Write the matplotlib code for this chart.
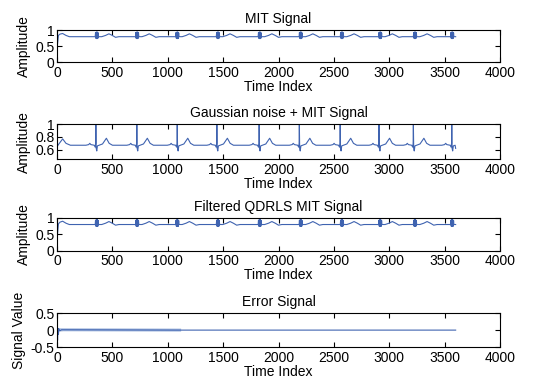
import numpy as np
import matplotlib as mpl
mpl.use('agg')
import matplotlib.pyplot as plt

plt.rcParams['font.family'] = ['Liberation Sans', 'DejaVu Sans']
plt.rcParams['font.size'] = 10

# beat (R peak) positions
r_mit = [358, 722, 1085, 1452, 1830, 2200, 2572, 2918, 3232, 3568]
r_noisy = [350, 720, 1085, 1443, 1825, 2188, 2557, 2908, 3218, 3565]

# beat shape of the clean / filtered signal (offset from R, amplitude)
mit_off = [-60, -14, -11, -8, -5, -2, 1, 4, 7, 10, 13, 16, 45, 80, 110, 140, 170, 200]
mit_val = [0.80, 0.80, 0.93, 0.75, 0.94, 0.74, 0.95, 0.74, 0.94, 0.75, 0.92, 0.80,
           0.80, 0.84, 0.89, 0.84, 0.78, 0.80]
mit_start_x = [0, 3, 12, 25, 50, 80, 110]
mit_start_y = [0.40, 0.55, 0.84, 0.88, 0.90, 0.84, 0.80]
mit_end_x = [3600]
mit_end_y = [0.80]

filt_start_x = [0, 3, 12, 25, 50, 80, 110]
filt_start_y = [0.30, 0.50, 0.82, 0.87, 0.90, 0.84, 0.80]

# beat shape of the noisy signal
noisy_off = [-90, -65, -55, -45, -15, -6, -2, 0, 3, 8, 14, 30, 60, 95, 120, 150, 200]
noisy_val = [0.67, 0.68, 0.70, 0.68, 0.67, 0.64, 0.70, 1.00, 0.62, 0.58, 0.66, 0.67,
             0.69, 0.78, 0.70, 0.67, 0.67]
noisy_start_x = [0, 20, 50, 80, 120]
noisy_start_y = [0.65, 0.70, 0.77, 0.70, 0.67]
noisy_end_x = [3600]
noisy_end_y = [0.62]

err_x = [0, 4, 8, 12, 16, 25, 40, 1100, 3600]
err_y = [0.0, -0.30, 0.05, -0.12, 0.04, -0.02, 0.01, 0.0, 0.0]
# early part of the error where small ripples show as a faint band
err_band_x = [20, 1120]
err_band_y = [0.01, 0.0]


def build(starts_x, starts_y, beats, off, val, ends_x, ends_y):
    xs = list(starts_x)
    ys = list(starts_y)
    for r in beats:
        for o, v in zip(off, val):
            if r + o > xs[-1] and r + o <= 3600:
                xs.append(r + o)
                ys.append(v)
    for x, y in zip(ends_x, ends_y):
        if x > xs[-1]:
            xs.append(x)
            ys.append(y)
    return xs, ys


mit_x, mit_y = build(mit_start_x, mit_start_y, r_mit, mit_off, mit_val, mit_end_x, mit_end_y)
noisy_x, noisy_y = build(noisy_start_x, noisy_start_y, r_noisy, noisy_off, noisy_val,
                         noisy_end_x, noisy_end_y)
filt_x, filt_y = build(filt_start_x, filt_start_y, r_mit, mit_off, mit_val, mit_end_x, mit_end_y)

line_color = '#3f63b0'

fig = plt.figure(figsize=(5.44, 3.79), dpi=100)

panels = [
    (0.836, 0.084, 'MIT Signal', 'Amplitude', mit_x, mit_y, (0, 1), [0, 0.5, 1], ['0', '0.5', '1']),
    (0.580, 0.092, 'Gaussian noise + MIT Signal', 'Amplitude', noisy_x, noisy_y, (0.45, 1),
     [0.6, 0.8, 1], ['0.6', '0.8', '1']),
    (0.338, 0.087, 'Filtered QDRLS MIT Signal', 'Amplitude', filt_x, filt_y, (0, 1),
     [0, 0.5, 1], ['0', '0.5', '1']),
    (0.084, 0.090, 'Error Signal', 'Signal Value', err_x, err_y, (-0.5, 0.5),
     [-0.5, 0, 0.5], ['-0.5', '0', '0.5']),
]

for i, (bottom, height, title, ylabel, xs, ys, ylim, yt, ytl) in enumerate(panels):
    ax = fig.add_axes([0.105, bottom, 0.814, height])
    if i == 3:
        ax.plot(err_band_x, err_band_y, color='#a9bde0', lw=2.2, solid_capstyle='butt')
    ax.plot(xs, ys, color=line_color, lw=0.8)
    ax.set_xlim(0, 4000)
    ax.set_ylim(*ylim)
    ax.set_xticks(range(0, 4001, 500))
    ax.set_yticks(yt)
    ax.set_yticklabels(ytl)
    ax.tick_params(direction='in', top=True, right=True, length=3.5, labelsize=10)
    ax.tick_params(axis='x', pad=2.5)
    ax.tick_params(axis='y', pad=2)
    ax.set_title(title, fontsize=10, pad=5)
    ax.set_xlabel('Time Index', fontsize=10, labelpad=0)
    ax.set_ylabel(ylabel, fontsize=10, labelpad=3)
    for s in ax.spines.values():
        s.set_linewidth(0.8)

plt.savefig('out.png', dpi=100)
plt.close()
